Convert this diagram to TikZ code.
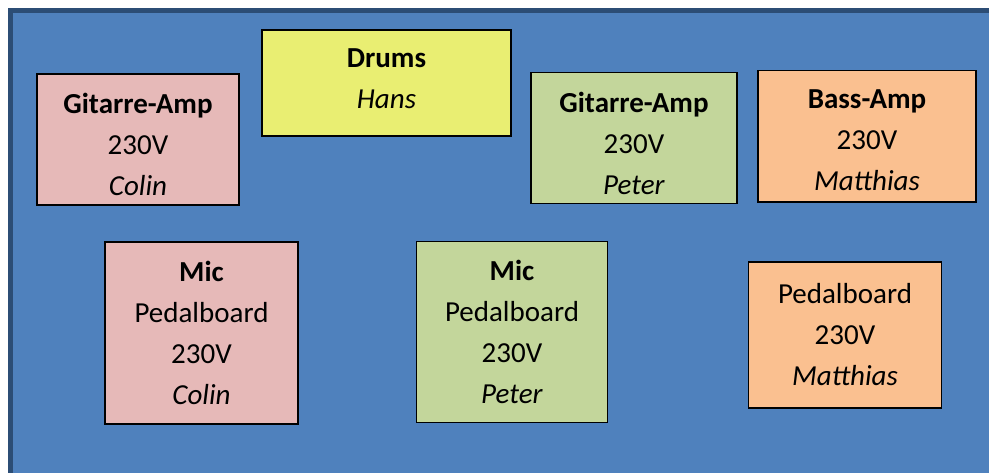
\documentclass[tikz,border=0pt]{standalone}
\usepackage{fontspec}
\setmainfont{Carlito}
\definecolor{stage}{HTML}{4F81BD}
\definecolor{stageedge}{HTML}{2C4D75}
\definecolor{colinbox}{HTML}{E6B9B8}
\definecolor{hansbox}{HTML}{E9EE72}
\definecolor{peterbox}{HTML}{C3D69B}
\definecolor{matthiasbox}{HTML}{FAC090}
% extra room above the first line, pushes the text block down
\newcommand{\toprow}[1]{\rule{0pt}{#1}}
\tikzset{
  gear/.style={draw=black, line width=1pt, inner sep=0pt, align=center,
    font=\fontsize{21.75}{30.75}\selectfont},
  lift text/.style={execute at end node={\rule[-#1]{0pt}{#1}}},
}
\begin{document}
\begin{tikzpicture}[x=0.75pt, y=-0.75pt]
    \useasboundingbox (0,0) rectangle (989,473);
    \clip (0,0) rectangle (989,473);
    % Stage
    \draw[fill=stage, draw=stageedge, line width=3.75pt] (10.5,10.5) rectangle (1010,500);
    % Colin
    \node[gear, fill=colinbox, minimum width=151.5pt, minimum height=98.25pt]
        (colinamp) at (138,139.5) {\toprow{23pt}\textbf{Gitarre-Amp}\\230V\\\textit{Colin}};
    \node[gear, fill=colinbox, minimum width=144.75pt, minimum height=136.5pt]
        (colinmic) at (201.5,333) {\textbf{Mic}\\Pedalboard\\230V\\\textit{Colin}};
    % Hans
    \node[gear, fill=hansbox, minimum width=186.75pt, minimum height=79.5pt, lift text=6pt]
        (hansdrums) at (386.5,83) {\textbf{Drums}\\\textit{Hans}};
    % Peter
    \node[gear, fill=peterbox, minimum width=154.5pt, minimum height=98.25pt]
        (peteramp) at (634,138) {\toprow{23pt}\textbf{Gitarre-Amp}\\230V\\\textit{Peter}};
    \node[gear, fill=peterbox, minimum width=142.9pt, minimum height=135.4pt]
        (petermic) at (512,332) {\textbf{Mic}\\Pedalboard\\230V\\\textit{Peter}};
    % Matthias
    \node[gear, fill=matthiasbox, minimum width=163.5pt, minimum height=98.6pt]
        (matthiasamp) at (867,136.3) {\toprow{20pt}\textbf{Bass-Amp}\\230V\\\textit{Matthias}};
    \node[gear, fill=matthiasbox, minimum width=144.4pt, minimum height=109.5pt]
        (matthiasboard) at (845,335) {Pedalboard\\230V\\\textit{Matthias}};
\end{tikzpicture}
\end{document}
